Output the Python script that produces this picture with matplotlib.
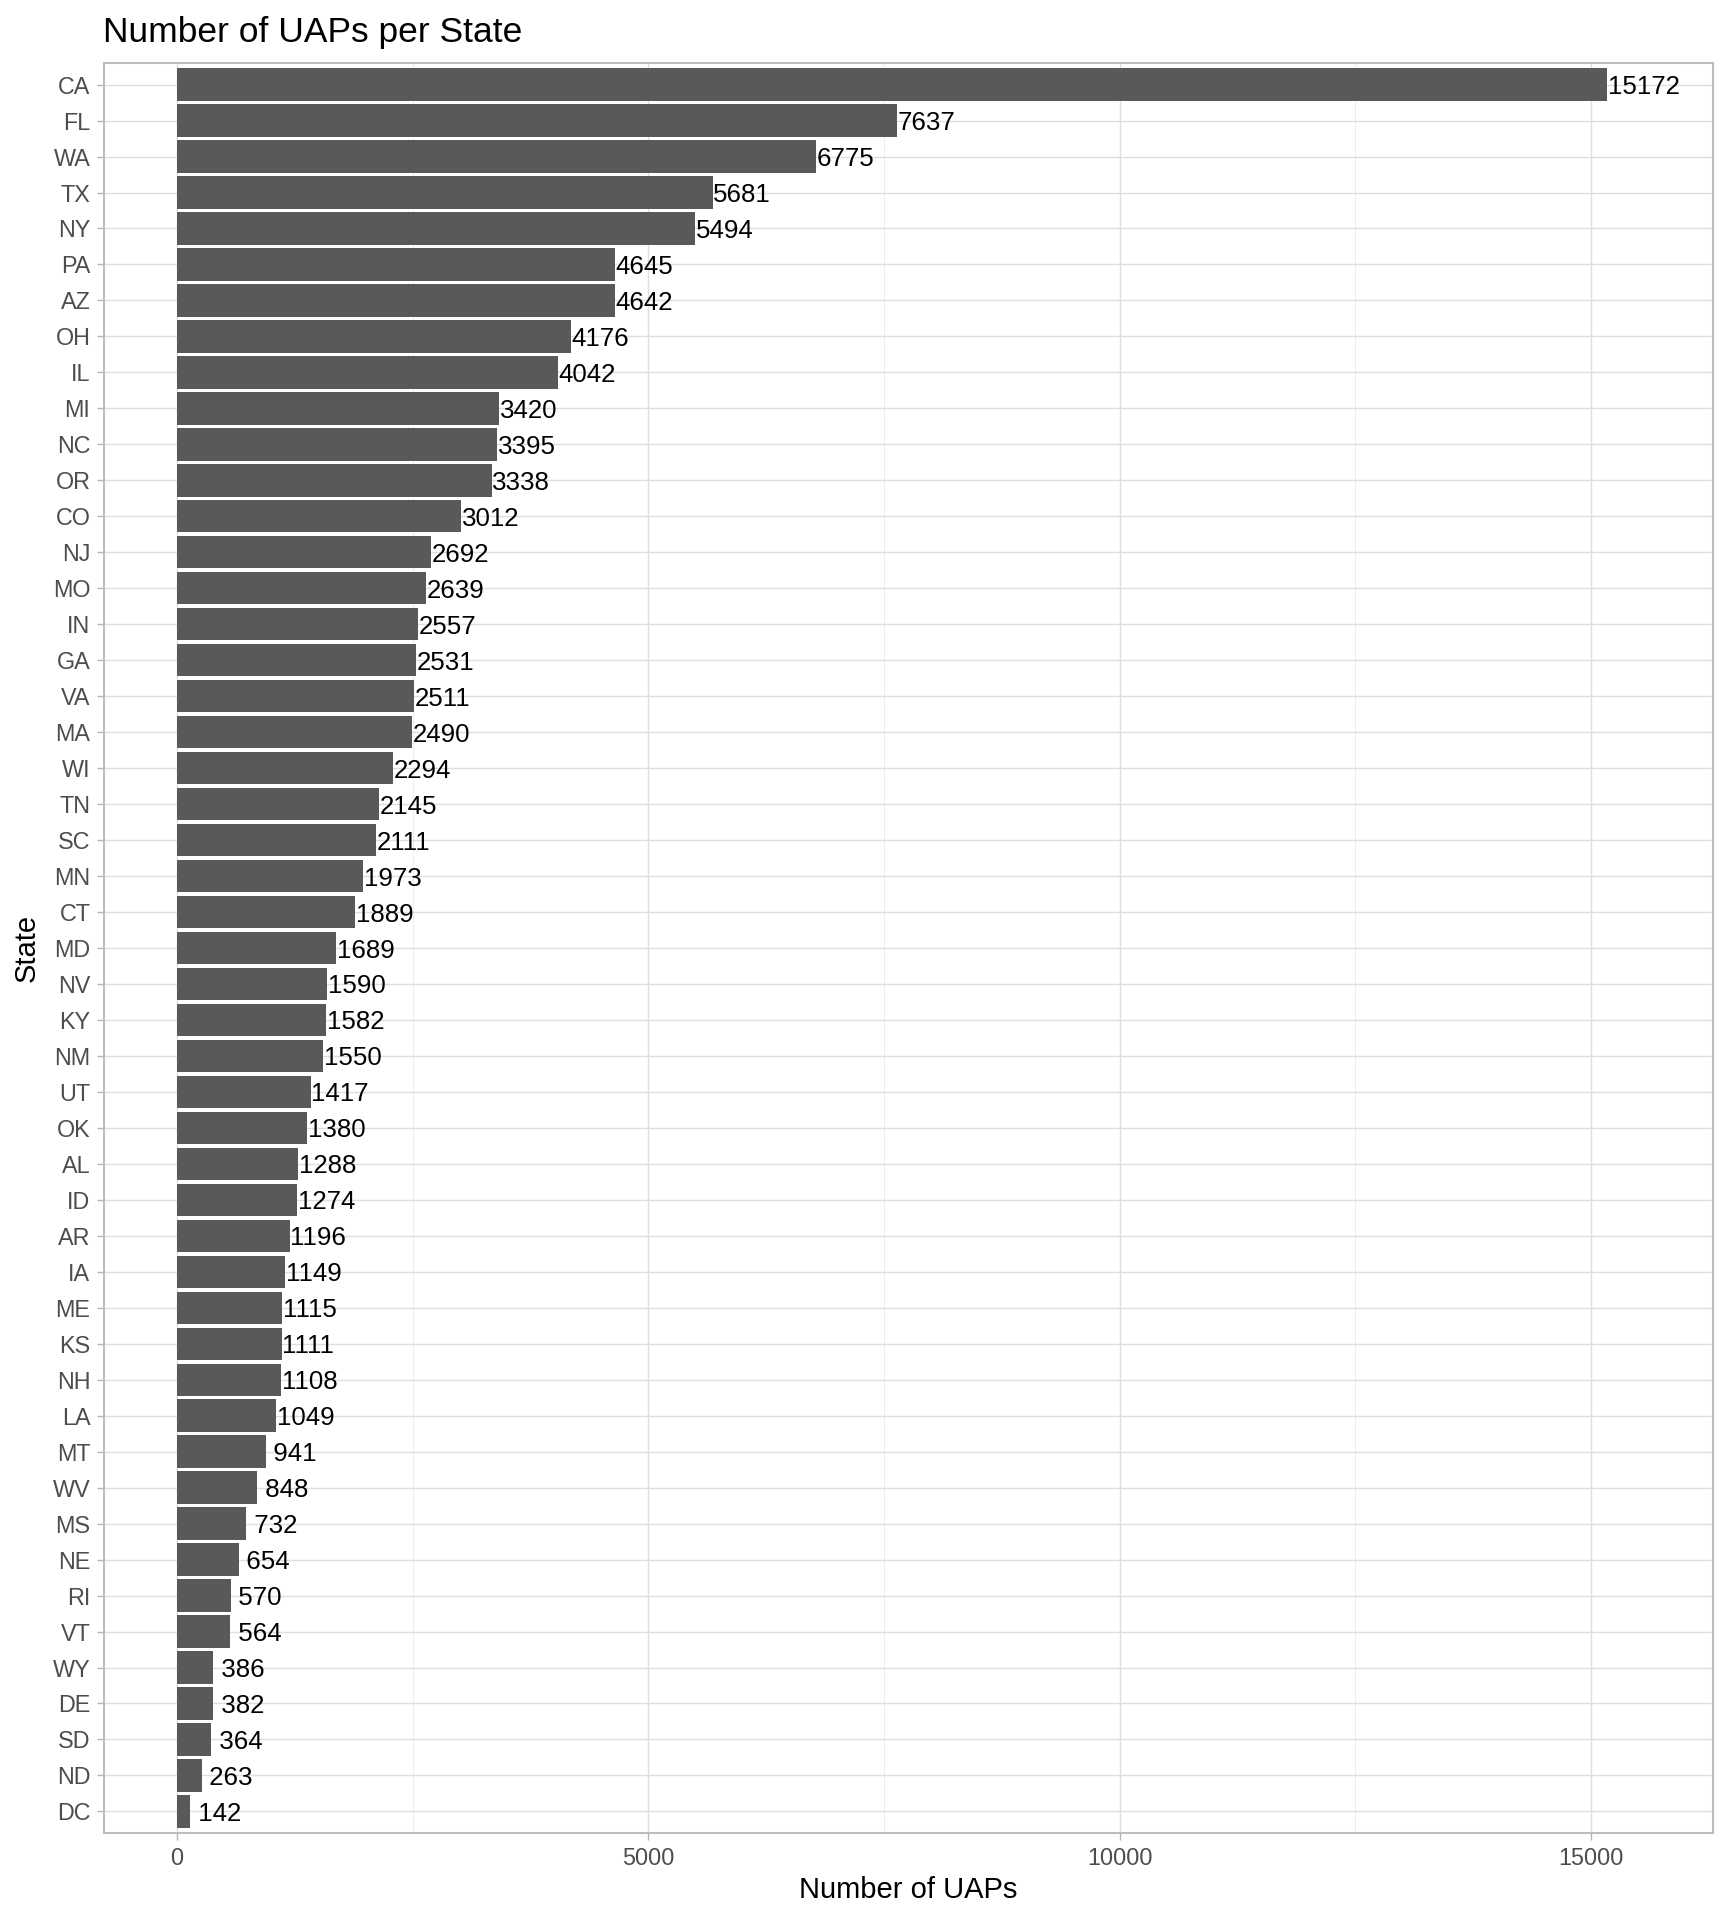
import matplotlib
matplotlib.use('Agg')
import matplotlib.pyplot as plt
from matplotlib.ticker import MultipleLocator
from matplotlib.transforms import offset_copy

# Data (sorted top to bottom)
states = ['CA', 'FL', 'WA', 'TX', 'NY', 'PA', 'AZ', 'OH', 'IL', 'MI',
          'NC', 'OR', 'CO', 'NJ', 'MO', 'IN', 'GA', 'VA', 'MA', 'WI',
          'TN', 'SC', 'MN', 'CT', 'MD', 'NV', 'KY', 'NM', 'UT', 'OK',
          'AL', 'ID', 'AR', 'IA', 'ME', 'KS', 'NH', 'LA', 'MT', 'WV',
          'MS', 'NE', 'RI', 'VT', 'WY', 'DE', 'SD', 'ND', 'DC']
counts = [15172, 7637, 6775, 5681, 5494, 4645, 4642, 4176, 4042, 3420,
          3395, 3338, 3012, 2692, 2639, 2557, 2531, 2511, 2490, 2294,
          2145, 2111, 1973, 1889, 1689, 1590, 1582, 1550, 1417, 1380,
          1288, 1274, 1196, 1149, 1115, 1111, 1108, 1049, 941, 848,
          732, 654, 570, 564, 386, 382, 364, 263, 142]
xticks = [0, 5000, 10000, 15000]

plt.rcParams['font.family'] = ['Liberation Sans', 'DejaVu Sans']

W, H = 1728, 1920
fig = plt.figure(figsize=(W / 100, H / 100), dpi=100)
left, right, top, bottom = 104, 1713, 63, 1833
ax = fig.add_axes([left / W, 1 - bottom / H, (right - left) / W, (bottom - top) / H])

n = len(states)
ypos = list(range(n))
ax.barh(ypos, counts, height=0.9, color='#595959', zorder=3)
lab_trans = offset_copy(ax.transData, fig=fig, x=0.5, y=0, units='points')
for y, v in zip(ypos, counts):
    ax.text(v, y, f'{v:4d}', ha='left', va='center_baseline', fontsize=18.6,
            color='black', zorder=4, transform=lab_trans)

ax.set_ylim(n - 1 + 0.6, -0.6)
ax.set_xlim(-774, 16294)
ax.set_yticks(ypos)
ax.set_yticklabels(states)
ax.set_xticks(xticks)
ax.set_xticklabels([str(t) for t in xticks])
ax.xaxis.set_minor_locator(MultipleLocator(2500))

# theme_light look
ax.grid(True, which='major', color='#dedede', linewidth=1.0, zorder=0)
ax.grid(True, which='minor', axis='x', color='#e6e6e6', linewidth=0.5, zorder=0)
for s in ax.spines.values():
    s.set_color('#bdbdbd')
    s.set_linewidth(1.5)
ax.tick_params(which='major', length=5.3, width=1.0, color='#b3b3b3',
               labelsize=16.8, labelcolor='#4d4d4d', pad=4.5)
ax.tick_params(which='minor', length=0)

ax.set_xlabel('Number of UAPs', fontsize=21)
ax.set_ylabel('State', fontsize=21)
ax.xaxis.set_label_coords(0.5, (bottom - 1890) / (bottom - top))
ax.xaxis.label.set_va('center')
ax.yaxis.set_label_coords((27 - left) / (right - left), 0.5)
ax.yaxis.label.set_va('center')

fig.text(103 / W, 1 - 42 / H, 'Number of UAPs per State', fontsize=25.5,
         ha='left', va='baseline')

fig.savefig('out.png', dpi=100, facecolor='white')
